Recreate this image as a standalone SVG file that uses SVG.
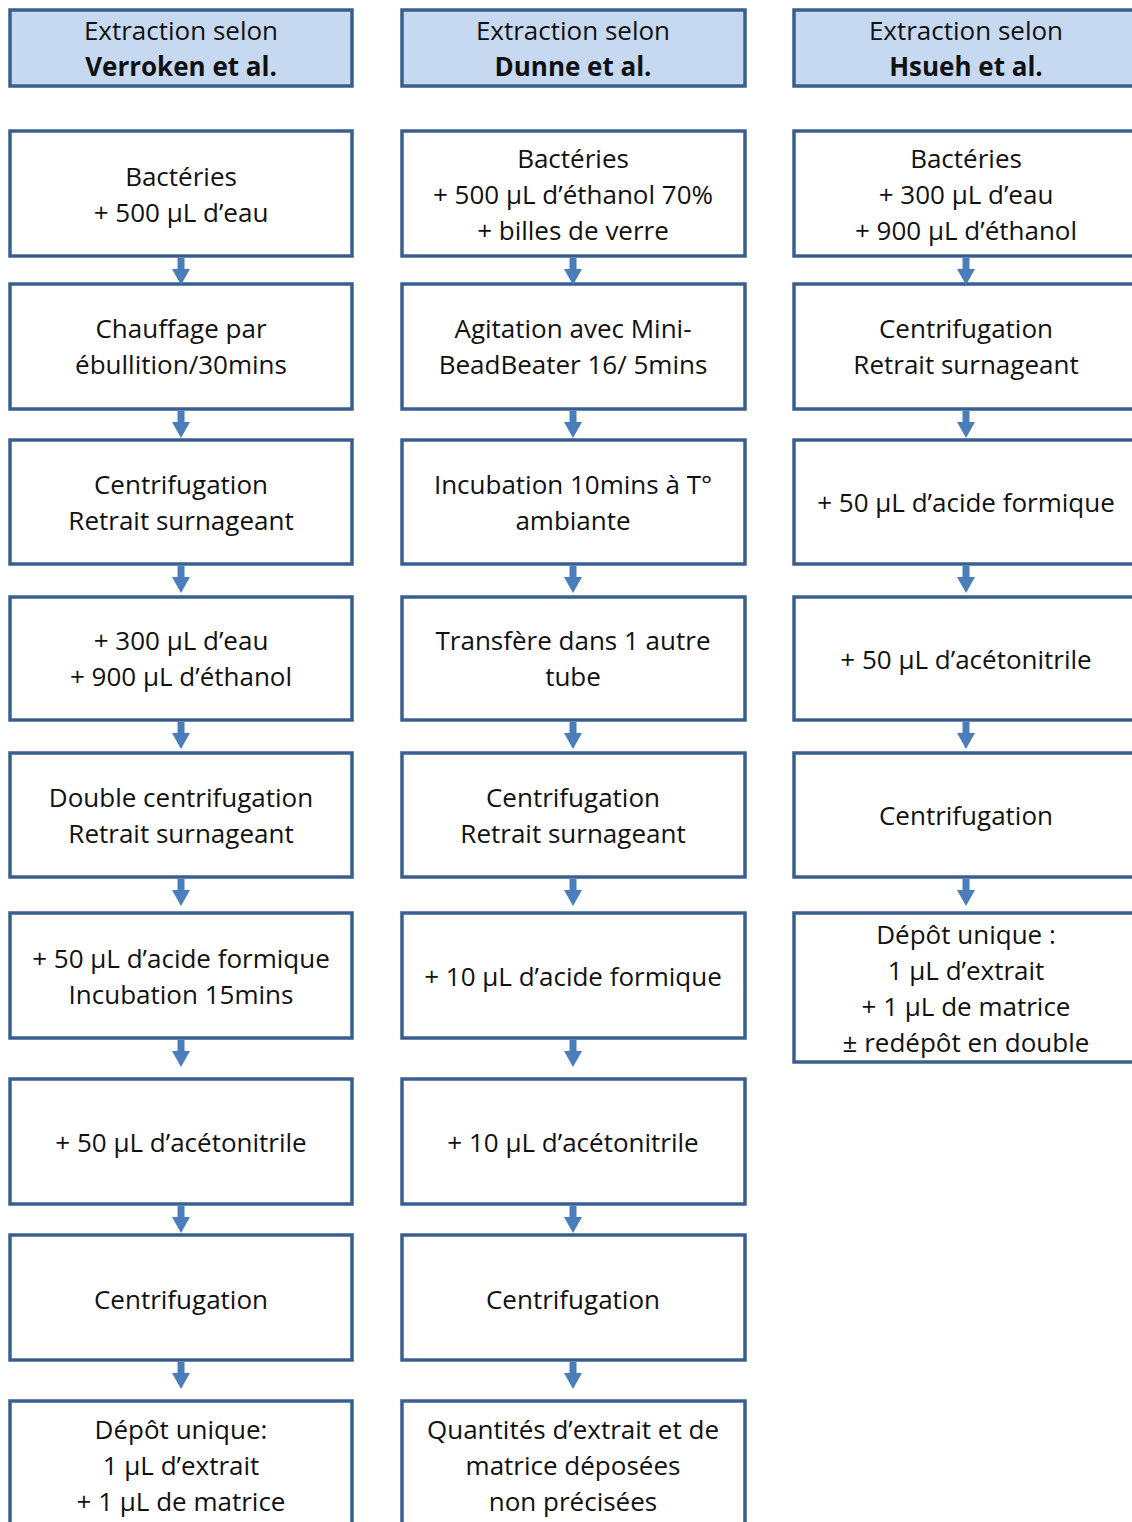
<svg xmlns="http://www.w3.org/2000/svg" width="1132" height="1522" viewBox="0 0 1132 1522">
<style>
.box{fill:#ffffff;stroke:#3a5f8f;stroke-width:3.5}
.hdr{fill:#c6d9f1;stroke:#3a5f8f;stroke-width:3.5}
text{font-family:"Open Sans","Liberation Sans",sans-serif;font-size:26px;fill:#111;text-anchor:middle;dominant-baseline:central}
.b{font-weight:bold}
.arr{fill:#4a7ebb}
</style>
<defs>
<path id="a" d="M-3.5,0 H3.5 V11 H9 L0,27 L-9,11 H-3.5 Z"/>
</defs>
<rect width="1132" height="1522" fill="#ffffff"/>
<!-- Column 1 -->
<g id="c1-h"><rect class="hdr" x="10" y="10" width="342" height="76"/><text x="181" y="30">Extraction selon</text><text class="b" x="181" y="66">Verroken et al.</text></g>
<g id="c1-1"><rect class="box" x="10" y="131" width="342" height="125"/><text x="181" y="176">Bactéries</text><text x="181" y="212">+ 500 µL d’eau</text></g>
<g id="c1-2"><rect class="box" x="10" y="284" width="342" height="125"/><text x="181" y="328">Chauffage par</text><text x="181" y="364">ébullition/30mins</text></g>
<g id="c1-3"><rect class="box" x="10" y="440" width="342" height="124"/><text x="181" y="484">Centrifugation</text><text x="181" y="520">Retrait surnageant</text></g>
<g id="c1-4"><rect class="box" x="10" y="597" width="342" height="123"/><text x="181" y="640">+ 300 µL d’eau</text><text x="181" y="676">+ 900 µL d’éthanol</text></g>
<g id="c1-5"><rect class="box" x="10" y="753" width="342" height="124"/><text x="181" y="797">Double centrifugation</text><text x="181" y="833">Retrait surnageant</text></g>
<g id="c1-6"><rect class="box" x="10" y="913" width="342" height="125"/><text x="181" y="958">+ 50 µL d’acide formique</text><text x="181" y="994">Incubation 15mins</text></g>
<g id="c1-7"><rect class="box" x="10" y="1079" width="342" height="125"/><text x="181" y="1142">+ 50 µL d’acétonitrile</text></g>
<g id="c1-8"><rect class="box" x="10" y="1235" width="342" height="125"/><text x="181" y="1299">Centrifugation</text></g>
<g id="c1-9"><rect class="box" x="10" y="1401" width="342" height="140"/><text x="181" y="1429">Dépôt unique:</text><text x="181" y="1465">1 µL d’extrait</text><text x="181" y="1501">+ 1 µL de matrice</text></g>
<!-- Column 2 -->
<g id="c2-h"><rect class="hdr" x="402" y="10" width="343" height="76"/><text x="573" y="30">Extraction selon</text><text class="b" x="573" y="66">Dunne et al.</text></g>
<g id="c2-1"><rect class="box" x="402" y="131" width="343" height="125"/><text x="573" y="158">Bactéries</text><text x="573" y="194">+ 500 µL d’éthanol 70%</text><text x="573" y="230">+ billes de verre</text></g>
<g id="c2-2"><rect class="box" x="402" y="284" width="343" height="125"/><text x="573" y="328">Agitation avec Mini-</text><text x="573" y="364">BeadBeater 16/ 5mins</text></g>
<g id="c2-3"><rect class="box" x="402" y="440" width="343" height="124"/><text x="573" y="484">Incubation 10mins à T°</text><text x="573" y="520">ambiante</text></g>
<g id="c2-4"><rect class="box" x="402" y="597" width="343" height="123"/><text x="573" y="640">Transfère dans 1 autre</text><text x="573" y="676">tube</text></g>
<g id="c2-5"><rect class="box" x="402" y="753" width="343" height="124"/><text x="573" y="797">Centrifugation</text><text x="573" y="833">Retrait surnageant</text></g>
<g id="c2-6"><rect class="box" x="402" y="913" width="343" height="125"/><text x="573" y="976">+ 10 µL d’acide formique</text></g>
<g id="c2-7"><rect class="box" x="402" y="1079" width="343" height="125"/><text x="573" y="1142">+ 10 µL d’acétonitrile</text></g>
<g id="c2-8"><rect class="box" x="402" y="1235" width="343" height="125"/><text x="573" y="1299">Centrifugation</text></g>
<g id="c2-9"><rect class="box" x="402" y="1401" width="343" height="140"/><text x="573" y="1429">Quantités d’extrait et de</text><text x="573" y="1465">matrice déposées</text><text x="573" y="1501">non précisées</text></g>
<!-- Column 3 -->
<g id="c3-h"><rect class="hdr" x="794" y="10" width="346" height="76"/><text x="966" y="30">Extraction selon</text><text class="b" x="966" y="66">Hsueh et al.</text></g>
<g id="c3-1"><rect class="box" x="794" y="131" width="346" height="125"/><text x="966" y="158">Bactéries</text><text x="966" y="194">+ 300 µL d’eau</text><text x="966" y="230">+ 900 µL d’éthanol</text></g>
<g id="c3-2"><rect class="box" x="794" y="284" width="346" height="125"/><text x="966" y="328">Centrifugation</text><text x="966" y="364">Retrait surnageant</text></g>
<g id="c3-3"><rect class="box" x="794" y="440" width="346" height="124"/><text x="966" y="502">+ 50 µL d’acide formique</text></g>
<g id="c3-4"><rect class="box" x="794" y="597" width="346" height="123"/><text x="966" y="659">+ 50 µL d’acétonitrile</text></g>
<g id="c3-5"><rect class="box" x="794" y="753" width="346" height="124"/><text x="966" y="815">Centrifugation</text></g>
<g id="c3-6"><rect class="box" x="794" y="913" width="346" height="149"/><text x="966" y="934">Dépôt unique :</text><text x="966" y="970">1 µL d’extrait</text><text x="966" y="1006">+ 1 µL de matrice</text><text x="966" y="1042">± redépôt en double</text></g>
<!-- Connectors -->
<g id="connectors" class="arr">
<use href="#a" x="181" y="258"/><use href="#a" x="181" y="411"/><use href="#a" x="181" y="566"/><use href="#a" x="181" y="722"/><use href="#a" x="181" y="879"/><use href="#a" x="181" y="1040"/><use href="#a" x="181" y="1206"/><use href="#a" x="181" y="1362"/>
<use href="#a" x="573" y="258"/><use href="#a" x="573" y="411"/><use href="#a" x="573" y="566"/><use href="#a" x="573" y="722"/><use href="#a" x="573" y="879"/><use href="#a" x="573" y="1040"/><use href="#a" x="573" y="1206"/><use href="#a" x="573" y="1362"/>
<use href="#a" x="966" y="258"/><use href="#a" x="966" y="411"/><use href="#a" x="966" y="566"/><use href="#a" x="966" y="722"/><use href="#a" x="966" y="879"/>
</g>
</svg>
